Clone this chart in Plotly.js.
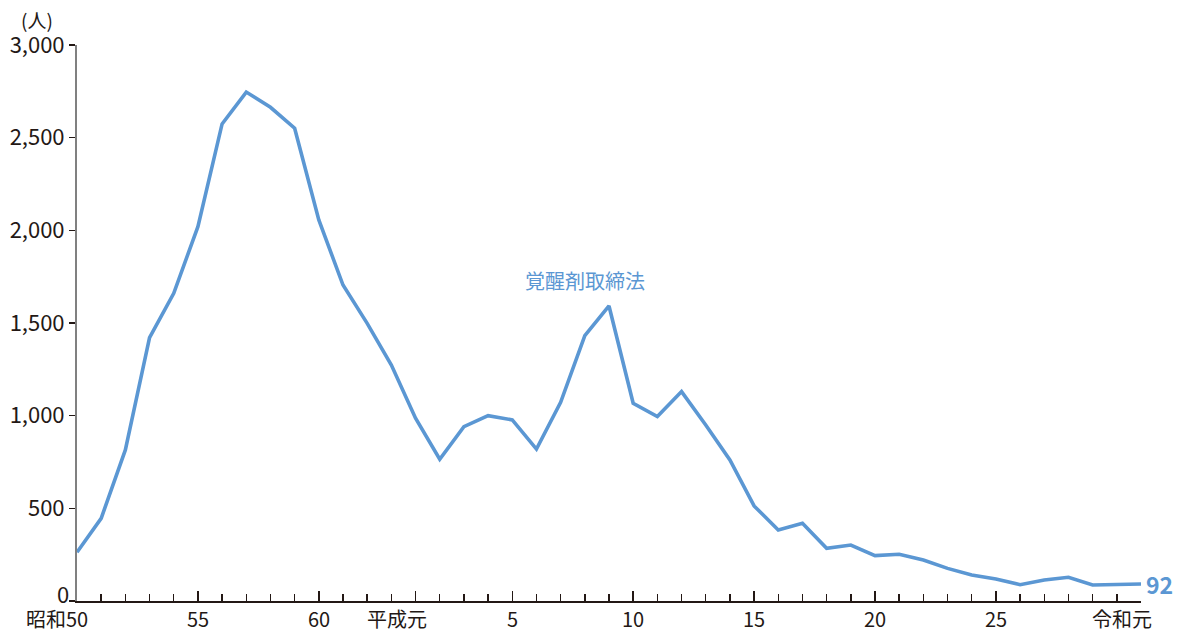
<!DOCTYPE html>
<html>
<head>
<meta charset="utf-8">
<script src="https://cdn.plot.ly/plotly-3.0.1.min.js"></script>
<style>
html,body{margin:0;padding:0;background:#fff;}
#chart{width:1181px;height:632px;}
</style>
</head>
<body>
<div id="chart"></div>
<script>
// Data
const years = [1975,1976,1977,1978,1979,1980,1981,1982,1983,1984,
               1985,1986,1987,1988,1989,1990,1991,1992,1993,1994,
               1995,1996,1997,1998,1999,2000,2001,2002,2003,2004,
               2005,2006,2007,2008,2009,2010,2011,2012,2013,2014,
               2015,2016,2017,2018,2019];
const values = [263,446,815,1421,1660,2020,2574,2746,2664,2551,
                2056,1705,1498,1273,986,765,941,1000,977,820,
                1072,1432,1592,1067,995,1130,950,761,513,383,
                419,284,302,245,252,221,176,140,119,88,
                113,128,86,90,92];
const tickYears = [1975,1980,1985,1989,1993,1998,2003,2008,2013,2019];
const tickLabels = ['昭和50','55','60','平成元','5','10','15','20','25','令和元'];
const yTickVals = [0,500,1000,1500,2000,2500,3000];
const yTickLabels = ['0','500','1,000','1,500','2,000','2,500','3,000'];
const unitLabel = '(人)';
const lawLabel = '覚醒剤取締法';

const FONT = '"Noto Sans CJK JP", "Noto Sans", sans-serif';
const BLUE = '#5b97d3';
const TEXT = '#231815';

const trace = {
  x: years, y: values, type: 'scatter', mode: 'lines',
  line: {color: BLUE, width: 3.6},
  hoverinfo: 'skip', cliponaxis: false
};

const annotations = [];
tickYears.forEach((yr, i) => {
  const lab = tickLabels[i];
  const numeric = /^[0-9]+$/.test(lab);
  annotations.push({
    x: yr, xref: 'x', y: 0, yref: 'paper',
    text: lab, showarrow: false,
    xanchor: numeric ? 'center' : 'right',
    xshift: numeric ? 0 : 11,
    yanchor: 'top', yshift: -3, borderpad: 0, borderwidth: 0,
    font: {family: FONT, size: 20, color: TEXT}
  });
});
// y tick label at zero, lifted slightly above the x axis as in the reference
const yTickText = yTickLabels.map((t, i) => i === 0 ? '' : t);
annotations.push({
  x: 0, xref: 'paper', y: yTickVals[0], yref: 'y', text: yTickLabels[0], showarrow: false,
  xanchor: 'right', yanchor: 'middle', xshift: -8, yshift: 8, borderpad: 0, borderwidth: 0,
  font: {family: FONT, size: 22, color: TEXT}
});
annotations.push({
  x: 0, xref: 'paper', y: 1, yref: 'paper', text: unitLabel, showarrow: false,
  xanchor: 'left', yanchor: 'bottom', yshift: 12, xshift: -56, borderpad: 0, borderwidth: 0,
  font: {family: FONT, size: 19, color: TEXT}
});
annotations.push({
  x: 0.4774, xref: 'paper', y: 0.577, yref: 'paper', text: lawLabel, showarrow: false,
  xanchor: 'center', yanchor: 'middle',
  font: {family: FONT, size: 20, color: BLUE}
});
annotations.push({
  x: years[years.length-1], xref: 'x', y: values[values.length-1], yref: 'y',
  text: '<b>' + values[values.length-1] + '</b>', showarrow: false,
  xanchor: 'left', yanchor: 'middle', xshift: 3,
  font: {family: FONT, size: 23, color: BLUE}
});

const layout = {
  width: 1181, height: 632,
  margin: {l: 77, r: 40, t: 45, b: 31},
  paper_bgcolor: '#fff', plot_bgcolor: '#fff',
  showlegend: false,
  font: {family: FONT, color: TEXT},
  xaxis: {
    range: [1975, 2019], showgrid: false, zeroline: false,
    showline: true, linecolor: TEXT, linewidth: 2,
    tickmode: 'array', tickvals: tickYears, ticktext: tickLabels,
    showticklabels: false,
    ticks: 'inside', ticklen: 10, tickwidth: 1.5, tickcolor: TEXT,
    minor: {ticks: 'inside', tickmode: 'linear', tick0: 1975, dtick: 1, ticklen: 7, tickwidth: 1.5, tickcolor: TEXT, showgrid: false},
    fixedrange: true
  },
  yaxis: {
    range: [0, 3000], showgrid: false, zeroline: false,
    showline: true, linecolor: '#808080', linewidth: 2,
    tickmode: 'array', tickvals: yTickVals, ticktext: yTickText,
    ticks: 'outside', ticklen: 6, tickwidth: 1.5, tickcolor: TEXT,
    tickfont: {family: FONT, size: 22, color: TEXT},
    fixedrange: true
  },
  annotations: annotations
};

Plotly.newPlot('chart', [trace], layout, {staticPlot: true, displayModeBar: false});
</script>
</body>
</html>
